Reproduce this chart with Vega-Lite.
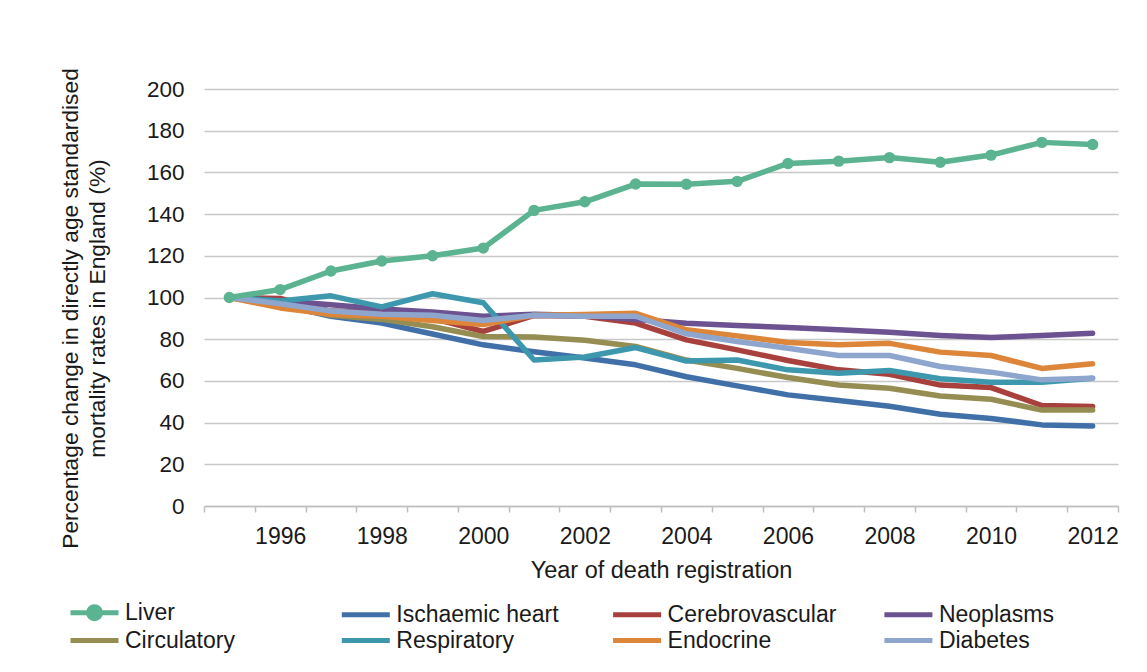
{
  "$schema": "https://vega.github.io/schema/vega-lite/v6.json",
  "width": 914,
  "height": 417,
  "autosize": {"type": "none"},
  "padding": {"left": 204, "top": 89, "right": 29, "bottom": 166},
  "background": "white",
  "config": {
    "view": {"stroke": null},
    "font": "Liberation Sans",
    "axis": {"labelColor": "#1a1a1a", "titleColor": "#1a1a1a", "labelFont": "Liberation Sans", "titleFont": "Liberation Sans"},
    "legend": {"labelFont": "Liberation Sans"}
  },
  "data": {
    "values": [
      {"year": 1995, "cause": "Liver", "value": 100},
      {"year": 1996, "cause": "Liver", "value": 103.8},
      {"year": 1997, "cause": "Liver", "value": 112.7},
      {"year": 1998, "cause": "Liver", "value": 117.5},
      {"year": 1999, "cause": "Liver", "value": 120},
      {"year": 2000, "cause": "Liver", "value": 123.7},
      {"year": 2001, "cause": "Liver", "value": 141.8},
      {"year": 2002, "cause": "Liver", "value": 145.9},
      {"year": 2003, "cause": "Liver", "value": 154.4},
      {"year": 2004, "cause": "Liver", "value": 154.3},
      {"year": 2005, "cause": "Liver", "value": 155.7},
      {"year": 2006, "cause": "Liver", "value": 164.3},
      {"year": 2007, "cause": "Liver", "value": 165.4},
      {"year": 2008, "cause": "Liver", "value": 167.1},
      {"year": 2009, "cause": "Liver", "value": 164.9},
      {"year": 2010, "cause": "Liver", "value": 168.3},
      {"year": 2011, "cause": "Liver", "value": 174.4},
      {"year": 2012, "cause": "Liver", "value": 173.4},

      {"year": 1995, "cause": "Ischaemic heart", "value": 100},
      {"year": 1996, "cause": "Ischaemic heart", "value": 96.5},
      {"year": 1997, "cause": "Ischaemic heart", "value": 91},
      {"year": 1998, "cause": "Ischaemic heart", "value": 87.7},
      {"year": 1999, "cause": "Ischaemic heart", "value": 82.5},
      {"year": 2000, "cause": "Ischaemic heart", "value": 77.3},
      {"year": 2001, "cause": "Ischaemic heart", "value": 74},
      {"year": 2002, "cause": "Ischaemic heart", "value": 71},
      {"year": 2003, "cause": "Ischaemic heart", "value": 67.7},
      {"year": 2004, "cause": "Ischaemic heart", "value": 62},
      {"year": 2005, "cause": "Ischaemic heart", "value": 57.6},
      {"year": 2006, "cause": "Ischaemic heart", "value": 53.3},
      {"year": 2007, "cause": "Ischaemic heart", "value": 50.6},
      {"year": 2008, "cause": "Ischaemic heart", "value": 47.8},
      {"year": 2009, "cause": "Ischaemic heart", "value": 44},
      {"year": 2010, "cause": "Ischaemic heart", "value": 42},
      {"year": 2011, "cause": "Ischaemic heart", "value": 38.9},
      {"year": 2012, "cause": "Ischaemic heart", "value": 38.4},

      {"year": 1995, "cause": "Cerebrovascular", "value": 100},
      {"year": 1996, "cause": "Cerebrovascular", "value": 99.5},
      {"year": 1997, "cause": "Cerebrovascular", "value": 93.5},
      {"year": 1998, "cause": "Cerebrovascular", "value": 93},
      {"year": 1999, "cause": "Cerebrovascular", "value": 90},
      {"year": 2000, "cause": "Cerebrovascular", "value": 83.7},
      {"year": 2001, "cause": "Cerebrovascular", "value": 91.4},
      {"year": 2002, "cause": "Cerebrovascular", "value": 91},
      {"year": 2003, "cause": "Cerebrovascular", "value": 87.7},
      {"year": 2004, "cause": "Cerebrovascular", "value": 79.7},
      {"year": 2005, "cause": "Cerebrovascular", "value": 74.9},
      {"year": 2006, "cause": "Cerebrovascular", "value": 69.8},
      {"year": 2007, "cause": "Cerebrovascular", "value": 65.3},
      {"year": 2008, "cause": "Cerebrovascular", "value": 63.2},
      {"year": 2009, "cause": "Cerebrovascular", "value": 58},
      {"year": 2010, "cause": "Cerebrovascular", "value": 56.8},
      {"year": 2011, "cause": "Cerebrovascular", "value": 48.2},
      {"year": 2012, "cause": "Cerebrovascular", "value": 47.7},

      {"year": 1995, "cause": "Neoplasms", "value": 100},
      {"year": 1996, "cause": "Neoplasms", "value": 98.5},
      {"year": 1997, "cause": "Neoplasms", "value": 96.5},
      {"year": 1998, "cause": "Neoplasms", "value": 94.5},
      {"year": 1999, "cause": "Neoplasms", "value": 93},
      {"year": 2000, "cause": "Neoplasms", "value": 91},
      {"year": 2001, "cause": "Neoplasms", "value": 92},
      {"year": 2002, "cause": "Neoplasms", "value": 91.4},
      {"year": 2003, "cause": "Neoplasms", "value": 89.5},
      {"year": 2004, "cause": "Neoplasms", "value": 87.7},
      {"year": 2005, "cause": "Neoplasms", "value": 86.6},
      {"year": 2006, "cause": "Neoplasms", "value": 85.6},
      {"year": 2007, "cause": "Neoplasms", "value": 84.5},
      {"year": 2008, "cause": "Neoplasms", "value": 83.3},
      {"year": 2009, "cause": "Neoplasms", "value": 81.8},
      {"year": 2010, "cause": "Neoplasms", "value": 80.8},
      {"year": 2011, "cause": "Neoplasms", "value": 81.8},
      {"year": 2012, "cause": "Neoplasms", "value": 82.9},

      {"year": 1995, "cause": "Circulatory", "value": 100},
      {"year": 1996, "cause": "Circulatory", "value": 96},
      {"year": 1997, "cause": "Circulatory", "value": 91.5},
      {"year": 1998, "cause": "Circulatory", "value": 89.5},
      {"year": 1999, "cause": "Circulatory", "value": 86},
      {"year": 2000, "cause": "Circulatory", "value": 81.3},
      {"year": 2001, "cause": "Circulatory", "value": 81},
      {"year": 2002, "cause": "Circulatory", "value": 79.5},
      {"year": 2003, "cause": "Circulatory", "value": 76.5},
      {"year": 2004, "cause": "Circulatory", "value": 70},
      {"year": 2005, "cause": "Circulatory", "value": 66},
      {"year": 2006, "cause": "Circulatory", "value": 61.6},
      {"year": 2007, "cause": "Circulatory", "value": 58},
      {"year": 2008, "cause": "Circulatory", "value": 56.5},
      {"year": 2009, "cause": "Circulatory", "value": 52.8},
      {"year": 2010, "cause": "Circulatory", "value": 51.2},
      {"year": 2011, "cause": "Circulatory", "value": 46},
      {"year": 2012, "cause": "Circulatory", "value": 46},

      {"year": 1995, "cause": "Respiratory", "value": 100},
      {"year": 1996, "cause": "Respiratory", "value": 98.3},
      {"year": 1997, "cause": "Respiratory", "value": 100.8},
      {"year": 1998, "cause": "Respiratory", "value": 95.5},
      {"year": 1999, "cause": "Respiratory", "value": 101.8},
      {"year": 2000, "cause": "Respiratory", "value": 97.5},
      {"year": 2001, "cause": "Respiratory", "value": 70},
      {"year": 2002, "cause": "Respiratory", "value": 71.5},
      {"year": 2003, "cause": "Respiratory", "value": 76},
      {"year": 2004, "cause": "Respiratory", "value": 69.5},
      {"year": 2005, "cause": "Respiratory", "value": 70},
      {"year": 2006, "cause": "Respiratory", "value": 65.3},
      {"year": 2007, "cause": "Respiratory", "value": 63.7},
      {"year": 2008, "cause": "Respiratory", "value": 65},
      {"year": 2009, "cause": "Respiratory", "value": 61},
      {"year": 2010, "cause": "Respiratory", "value": 59.4},
      {"year": 2011, "cause": "Respiratory", "value": 59.4},
      {"year": 2012, "cause": "Respiratory", "value": 61.3},

      {"year": 1995, "cause": "Endocrine", "value": 100},
      {"year": 1996, "cause": "Endocrine", "value": 95},
      {"year": 1997, "cause": "Endocrine", "value": 92},
      {"year": 1998, "cause": "Endocrine", "value": 91},
      {"year": 1999, "cause": "Endocrine", "value": 89},
      {"year": 2000, "cause": "Endocrine", "value": 87},
      {"year": 2001, "cause": "Endocrine", "value": 91.5},
      {"year": 2002, "cause": "Endocrine", "value": 91.8},
      {"year": 2003, "cause": "Endocrine", "value": 92.4},
      {"year": 2004, "cause": "Endocrine", "value": 84.5},
      {"year": 2005, "cause": "Endocrine", "value": 81.6},
      {"year": 2006, "cause": "Endocrine", "value": 78.4},
      {"year": 2007, "cause": "Endocrine", "value": 77.3},
      {"year": 2008, "cause": "Endocrine", "value": 78},
      {"year": 2009, "cause": "Endocrine", "value": 73.8},
      {"year": 2010, "cause": "Endocrine", "value": 72.2},
      {"year": 2011, "cause": "Endocrine", "value": 66},
      {"year": 2012, "cause": "Endocrine", "value": 68.2},

      {"year": 1995, "cause": "Diabetes", "value": 100},
      {"year": 1996, "cause": "Diabetes", "value": 97},
      {"year": 1997, "cause": "Diabetes", "value": 93.5},
      {"year": 1998, "cause": "Diabetes", "value": 92},
      {"year": 1999, "cause": "Diabetes", "value": 91.5},
      {"year": 2000, "cause": "Diabetes", "value": 89},
      {"year": 2001, "cause": "Diabetes", "value": 91.5},
      {"year": 2002, "cause": "Diabetes", "value": 91},
      {"year": 2003, "cause": "Diabetes", "value": 91},
      {"year": 2004, "cause": "Diabetes", "value": 82.6},
      {"year": 2005, "cause": "Diabetes", "value": 78.9},
      {"year": 2006, "cause": "Diabetes", "value": 75.7},
      {"year": 2007, "cause": "Diabetes", "value": 72.2},
      {"year": 2008, "cause": "Diabetes", "value": 72.2},
      {"year": 2009, "cause": "Diabetes", "value": 66.9},
      {"year": 2010, "cause": "Diabetes", "value": 64.2},
      {"year": 2011, "cause": "Diabetes", "value": 60.5},
      {"year": 2012, "cause": "Diabetes", "value": 61.3}
    ]
  },
  "encoding": {
    "x": {
      "field": "year",
      "type": "ordinal",
      "scale": {"paddingInner": 0, "paddingOuter": 0},
      "axis": {
        "title": "Year of death registration",
        "titleFontSize": 23.5,
        "titleFontWeight": "normal",
        "titlePadding": 10,
        "labelAngle": 0,
        "labelFontSize": 23,
        "labelPadding": 13,
        "labelExpr": "datum.value % 2 == 0 ? datum.label : ''",
        "labelOverlap": false,
        "domainColor": "#bfbfbf",
        "domainWidth": 1.5,
        "tickColor": "#bfbfbf",
        "tickWidth": 1.5,
        "tickSize": 6,
        "tickBand": "extent",
        "grid": false
      }
    },
    "y": {
      "field": "value",
      "type": "quantitative",
      "scale": {"domain": [0, 200], "nice": false},
      "axis": {
        "title": ["Percentage change in directly age standardised", "mortality rates in England (%)"],
        "titleFontSize": 22.75,
        "titleFontWeight": "normal",
        "titlePadding": 37,
        "titleLineHeight": 27,
        "titleY": 219,
        "values": [0, 20, 40, 60, 80, 100, 120, 140, 160, 180, 200],
        "labelFontSize": 22.5,
        "labelPadding": 20,
        "domain": false,
        "ticks": false,
        "grid": true,
        "gridColor": "#c8c8c8",
        "gridWidth": 1.5
      }
    },
    "color": {
      "field": "cause",
      "type": "nominal",
      "sort": null,
      "scale": {
        "domain": ["Liver", "Ischaemic heart", "Cerebrovascular", "Neoplasms", "Circulatory", "Respiratory", "Endocrine", "Diabetes"],
        "range": ["#5bb391", "#4170a9", "#a8413d", "#6c5290", "#968d53", "#3d98ae", "#dd8539", "#8ea6ce"]
      },
      "legend": {
        "title": null,
        "orient": "none",
        "direction": "horizontal",
        "legendX": -137,
        "legendY": 512,
        "columns": 4,
        "gridAlign": "all",
        "columnPadding": 37.3,
        "rowPadding": 0,
        "padding": 0,
        "symbolType": "M-1,0H5",
        "symbolSize": 256,
        "symbolStrokeWidth": 5,
        "labelFontSize": 23,
        "labelColor": "#1a1a1a",
        "labelOffset": 35,
        "labelLimit": 400,
        "encode": {
          "symbols": {
            "update": {
              "shape": {"signal": "datum.value === 'Liver' ? 'M-1,0H5M2.75,0A0.75,0.75,0,1,1,1.25,0A0.75,0.75,0,1,1,2.75,0Z' : 'M-1,0H5'"},
              "fill": {"signal": "datum.value === 'Liver' ? '#5bb391' : 'transparent'"},
              "strokeWidth": {"value": 5}
            }
          }
        }
      }
    }
  },
  "layer": [
    {
      "transform": [{"filter": "datum.cause != 'Liver'"}],
      "mark": {"type": "line", "strokeWidth": 5.5, "strokeJoin": "round", "strokeCap": "round"}
    },
    {
      "transform": [{"filter": "datum.cause == 'Liver'"}],
      "mark": {"type": "line", "strokeWidth": 5.5, "strokeJoin": "round", "point": {"size": 130, "filled": true, "opacity": 1}}
    }
  ]
}
